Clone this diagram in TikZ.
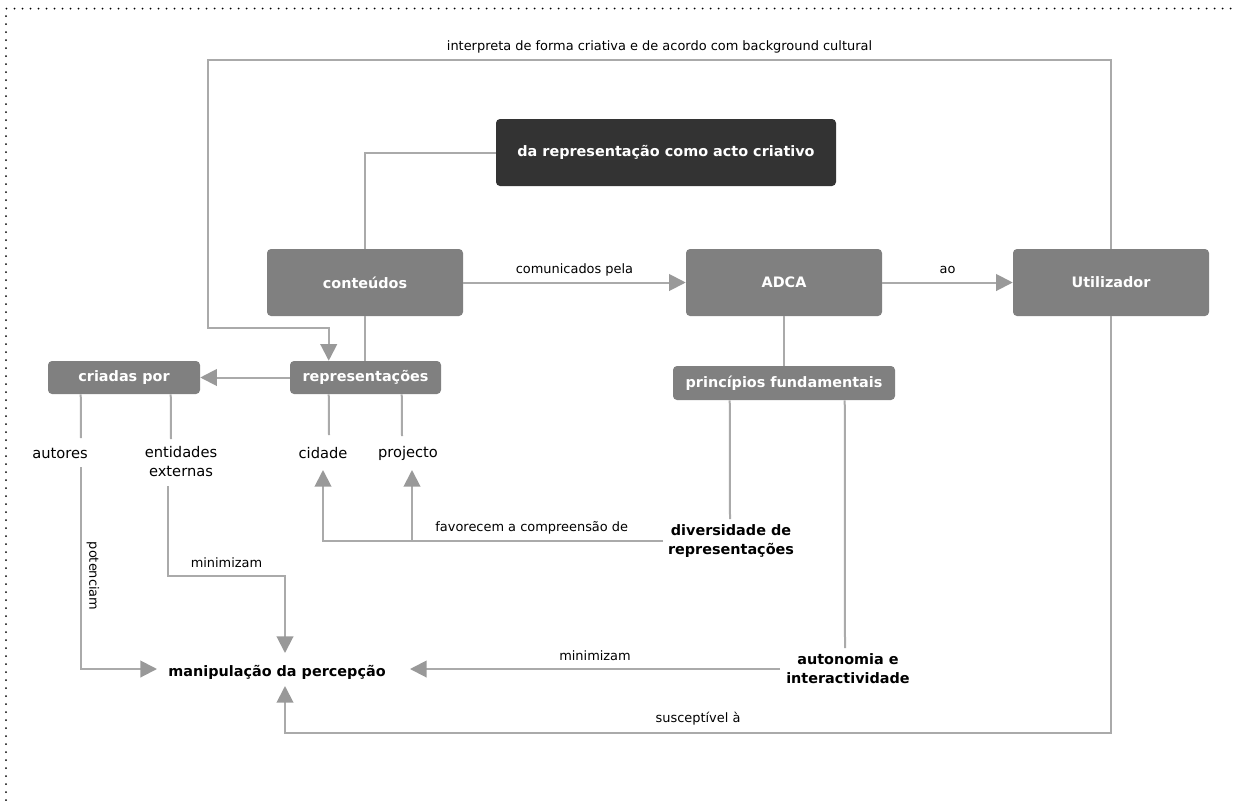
\documentclass[tikz,border=0pt]{standalone}
\usepackage{fontspec}
\setmainfont{DejaVu Sans}
\usetikzlibrary{arrows.meta,calc}
\definecolor{boxgray}{HTML}{808080}
\definecolor{darkfill}{HTML}{333333}
\definecolor{linegray}{HTML}{AAAAAA}
\definecolor{tipgray}{HTML}{999999}
\begin{document}
\begin{tikzpicture}[x=0.75pt,y=-0.75pt,
  box/.style={rounded corners=3pt, fill=boxgray, text=white,
    font=\fontsize{10.8}{13}\selectfont\bfseries, inner sep=0pt,
    minimum height=50.25pt, minimum width=147pt},
  smallbox/.style={box, minimum height=24.75pt},
  darkbox/.style={box, fill=darkfill, minimum width=255pt},
  term/.style={font=\fontsize{11}{14.25}\selectfont, inner sep=0pt, align=center},
  keyterm/.style={font=\fontsize{10.8}{14.25}\selectfont\bfseries, inner sep=0pt, align=center},
  link/.style={draw=linegray, line width=1.5pt},
  flow/.style={link, -{Triangle[length=12.5pt,width=12.5pt,color=tipgray]}},
  lbl/.style={font=\fontsize{9.7}{11}\selectfont, text=black, inner sep=0pt},
  frame/.style={draw=black, line width=1.5pt, line cap=round, dash pattern=on 0pt off 6pt}
]
\useasboundingbox (0,0) rectangle (1238,800);

% dotted outer frame
\draw[frame] (6,800) -- (6,8.5) -- (1238,8.5);

% boxes
\node[darkbox] (act) at (666,152.5) {da representação como acto criativo};
\node[box] (cont) at (365,282.5) {conteúdos};
\node[box] (adca) at (784,282.5) {ADCA};
\node[box] (util) at (1111,282.5) {Utilizador};
\node[smallbox, minimum width=113.25pt] (repr) at (365.5,377.5) {representações};
\node[smallbox, minimum width=114pt] (criadas) at (124,377.5) {criadas por};
\node[smallbox, minimum width=166.5pt, minimum height=25.5pt] (princ) at (784,383) {princípios fundamentais};

% free-standing terms
\node[term] (autores) at (60,453) {autores};
\node[term] (entid) at (181,462) {entidades\\externas};
\node[term] (cidade) at (323,453) {cidade};
\node[term] (proj) at (408,453) {projecto};
\node[keyterm] (divers) at (731,541) {diversidade de\\representações};
\node[keyterm] (auton) at (848,669) {autonomia e\\interactividade};
\node[keyterm] (manip) at (277,672) {manipulação da percepção};

\coordinate (loopTL) at (208,60);
\coordinate (loopBL) at (208,328);

% connectors
\draw[link] (cont.north) |- (act.west);
\draw[link] (cont.south) -- (cont.south |- repr.north);
\draw[flow] (util.north) -- (util.north |- loopTL)
  -- node[lbl, yshift=9.75pt]{interpreta de forma criativa e de acordo com background cultural} (loopTL)
  -- (loopBL) -| ($(repr.north west)+(39,0)$);
\draw[flow] (cont.east) -- node[lbl, yshift=9.75pt]{comunicados pela} (adca.west);
\draw[flow] (adca.east) -- node[lbl, yshift=9.75pt]{ao} (util.west);
\draw[link] (adca.south) -- (princ.north);
\draw[flow] (repr.west) -- (criadas.east);

\draw[link] ($(criadas.south west)+(33,0)$) -- ($(autores.center)+(21,-15)$);
\draw[link] ($(criadas.south west)+(123,0)$) -- ($(entid.center)+(-10,-23)$);
\draw[link] ($(repr.south west)+(39,0)$) -- ($(cidade.center)+(6,-18)$);
\draw[link] ($(repr.south west)+(112,0)$) -- ($(proj.center)+(-6,-17)$);

\draw[flow] ($(autores.center)+(21,14)$)
  |- node[lbl, pos=0.27, xshift=9pt, rotate=-90]{potenciam}
  ($(manip.center)+(-120,-3)$);
\draw[flow] ($(entid.center)+(-13,24)$)
  |- node[lbl, pos=0.75, yshift=9.75pt]{minimizam} ($(manip.center)+(8,-96)$)
  -- ($(manip.center)+(8,-19)$);

\draw[flow] ($(divers.center)+(-68,0)$)
  -- node[lbl, pos=0.386, yshift=9.75pt]{favorecem a compreensão de} ($(cidade.center)+(0,88)$)
  -- ($(cidade.center)+(0,17)$);
\draw[flow] ($(proj.center)+(4,88)$) -- ($(proj.center)+(4,17)$);

\draw[link] ($(princ.south west)+(57,0)$) -- ($(divers.center)+(-1,-22)$);
\draw[link] ($(princ.south west)+(172,0)$) -- ($(auton.center)+(-3,-21)$);

\draw[flow] ($(auton.center)+(-68,0)$)
  -- node[lbl, yshift=9.75pt]{minimizam} ($(manip.center)+(133,-3)$);
\draw[flow] (util.south)
  |- node[lbl, pos=0.75, yshift=10.5pt]{susceptível à} ($(manip.center)+(8,61)$)
  -- ($(manip.center)+(8,14)$);
\end{tikzpicture}
\end{document}
